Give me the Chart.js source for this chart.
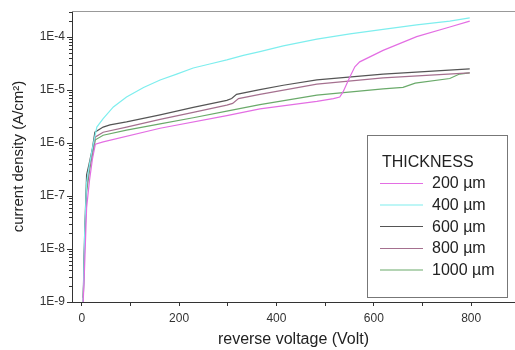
<!DOCTYPE html>
<html>
<head>
<meta charset="utf-8">
<script src="https://cdn.jsdelivr.net/npm/chart.js@4/dist/chart.umd.min.js"></script>
<style>
  html, body { margin: 0; padding: 0; background: #fff; }
  #wrap { width: 515px; height: 350px; }
</style>
</head>
<body>
<div id="wrap"><canvas id="chart"></canvas></div>
<script>
// I-V curves, current density vs reverse voltage, per sample thickness
const thicknessLabels = ['200 µm', '400 µm', '600 µm', '800 µm', '1000 µm'];
const lineColors = ['#e36ee3', '#7eeeee', '#555555', '#a5708f', '#6aaa6a'];

const volt200 = [3, 6, 10, 16, 22, 28, 44, 161, 298, 366, 483, 517, 530, 537, 551, 561, 571, 619, 688, 756, 797];
const cur200  = [1e-9, 5e-9, 6e-8, 2e-7, 5e-7, 9.5e-7, 1.05e-6, 1.9e-6, 3.3e-6, 4.4e-6, 6.1e-6, 6.9e-6, 7.4e-6, 9.3e-6, 1.78e-5, 2.75e-5, 3.4e-5, 5.6e-5, 1.02e-4, 1.55e-4, 2.0e-4];

const volt400 = [3, 6, 10, 16, 22, 31, 44, 65, 92, 127, 161, 195, 229, 263, 298, 332, 366, 414, 483, 551, 619, 688, 756, 797];
const cur400  = [1e-9, 2e-8, 1.8e-7, 4e-7, 8e-7, 2.0e-6, 2.9e-6, 4.8e-6, 7.4e-6, 1.12e-5, 1.55e-5, 2.0e-5, 2.6e-5, 3.1e-5, 3.7e-5, 4.5e-5, 5.3e-5, 6.8e-5, 9.1e-5, 1.15e-4, 1.4e-4, 1.7e-4, 2.0e-4, 2.3e-4];

const volt600 = [3, 6, 10, 15, 22, 27, 44, 58, 92, 161, 229, 298, 308, 318, 366, 414, 483, 619, 797];
const cur600  = [1.2e-9, 2e-8, 2.5e-7, 4e-7, 8e-7, 1.6e-6, 2.0e-6, 2.2e-6, 2.5e-6, 3.4e-6, 4.7e-6, 6.4e-6, 6.9e-6, 8.3e-6, 1.02e-5, 1.23e-5, 1.55e-5, 2.0e-5, 2.5e-5];

const volt800 = [3, 6, 10, 16, 22, 28, 44, 92, 161, 229, 298, 310, 322, 366, 483, 619, 797];
const cur800  = [1e-9, 1.5e-8, 1.5e-7, 3.5e-7, 7e-7, 1.3e-6, 1.6e-6, 2.0e-6, 2.8e-6, 3.8e-6, 5.2e-6, 5.6e-6, 6.9e-6, 8.3e-6, 1.29e-5, 1.7e-5, 2.1e-5];

const volt1000 = [3, 6, 10, 16, 22, 28, 44, 92, 161, 229, 298, 366, 483, 619, 660, 685, 756, 776, 797];
const cur1000  = [1e-9, 1.2e-8, 1.2e-7, 3e-7, 6e-7, 1.15e-6, 1.4e-6, 1.75e-6, 2.3e-6, 3.0e-6, 4.0e-6, 5.3e-6, 8.0e-6, 1.05e-5, 1.12e-5, 1.35e-5, 1.65e-5, 2.0e-5, 2.1e-5];

const xTicks = [0, 100, 200, 300, 400, 500, 600, 700, 800];
const yTicks = [1e-9, 1e-8, 1e-7, 1e-6, 1e-5, 1e-4];

const voltSets = [volt200, volt400, volt600, volt800, volt1000];
const curSets = [cur200, cur400, cur600, cur800, cur1000];

const FONT = '"Liberation Sans", Arial, Helvetica, sans-serif';

const datasets = thicknessLabels.map((label, i) => ({
    label,
    data: voltSets[i].map((v, j) => ({ x: v, y: curSets[i][j] })),
    borderColor: lineColors[i],
    backgroundColor: lineColors[i],
    borderWidth: 1.2,
    pointRadius: 0,
    tension: 0,
    fill: false
}));

// minor log ticks on the y axis, top frame line, and the boxed legend
const decorPlugin = {
    id: 'decor',
    afterDraw(chart) {
        const ctx = chart.ctx;
        const area = chart.chartArea;
        const y = chart.scales.y;
        ctx.save();
        ctx.strokeStyle = '#333';
        ctx.lineWidth = 1;
        for (let d = -9; d <= -4; d++) {
            for (let k = 2; k <= 9; k++) {
                const v = k * Math.pow(10, d);
                if (v > y.max) continue;
                const py = Math.round(y.getPixelForValue(v)) + 0.5;
                ctx.beginPath();
                ctx.moveTo(area.left - 3, py);
                ctx.lineTo(area.left, py);
                ctx.stroke();
            }
        }
        // top frame line
        ctx.strokeStyle = '#999';
        ctx.beginPath();
        ctx.moveTo(area.left, area.top + 0.5);
        ctx.lineTo(chart.width, area.top + 0.5);
        ctx.stroke();

        // legend box
        const bx = 367.5, by = 135.5, bw = 140, bh = 162;
        ctx.fillStyle = '#fff';
        ctx.fillRect(bx, by, bw, bh);
        ctx.strokeStyle = '#777';
        ctx.strokeRect(bx, by, bw, bh);
        ctx.fillStyle = '#222';
        ctx.font = '16px ' + FONT;
        ctx.textBaseline = 'alphabetic';
        ctx.textAlign = 'left';
        ctx.fillText('THICKNESS', 382, 166.5);
        const lineY = [183.5, 205, 226.5, 248.5, 270];
        const textY = [188.3, 210, 231.7, 253.3, 275];
        chart.data.datasets.forEach((ds, i) => {
            ctx.strokeStyle = ds.borderColor;
            ctx.lineWidth = 1.2;
            ctx.beginPath();
            ctx.moveTo(380, lineY[i]);
            ctx.lineTo(423, lineY[i]);
            ctx.stroke();
            ctx.fillText(ds.label, 432, textY[i]);
        });
        ctx.restore();
    }
};

new Chart(document.getElementById('chart'), {
    type: 'line',
    data: { datasets },
    plugins: [decorPlugin],
    options: {
        responsive: true,
        maintainAspectRatio: false,
        animation: false,
        layout: { padding: { top: 11, right: 0, left: 0, bottom: 0 } },
        plugins: {
            legend: { display: false },
            tooltip: { enabled: false }
        },
        scales: {
            x: {
                type: 'linear',
                min: -20,
                max: 890,
                afterBuildTicks: scale => { scale.ticks = xTicks.map(v => ({ value: v })); },
                afterFit: scale => { scale.height = 48; },
                border: { color: '#333', width: 1 },
                grid: { drawOnChartArea: false, drawTicks: true, tickLength: 4, color: '#333' },
                ticks: {
                    color: '#333',
                    padding: 5,
                    maxRotation: 0,
                    font: { family: FONT, size: 12 },
                    callback: v => (v % 200 === 0 ? String(v) : '')
                },
                title: {
                    display: true,
                    text: 'reverse voltage (Volt)',
                    color: '#222',
                    font: { family: FONT, size: 16 },
                    padding: { top: 0, bottom: 1 }
                }
            },
            y: {
                type: 'logarithmic',
                min: 1e-9,
                max: 3.1e-4,
                afterBuildTicks: scale => { scale.ticks = yTicks.map(v => ({ value: v })); },
                afterFit: scale => { scale.width = 72; },
                border: { color: '#333', width: 1 },
                grid: { drawOnChartArea: false, drawTicks: true, tickLength: 5, color: '#333' },
                ticks: {
                    color: '#333',
                    padding: 2,
                    font: { family: FONT, size: 12 },
                    callback: v => '1E' + Math.round(Math.log10(v))
                },
                title: {
                    display: true,
                    text: 'current density (A/cm²)',
                    color: '#222',
                    font: { family: FONT, size: 15 },
                    padding: { top: 10, bottom: 0 }
                }
            }
        }
    }
});
</script>
</body>
</html>
